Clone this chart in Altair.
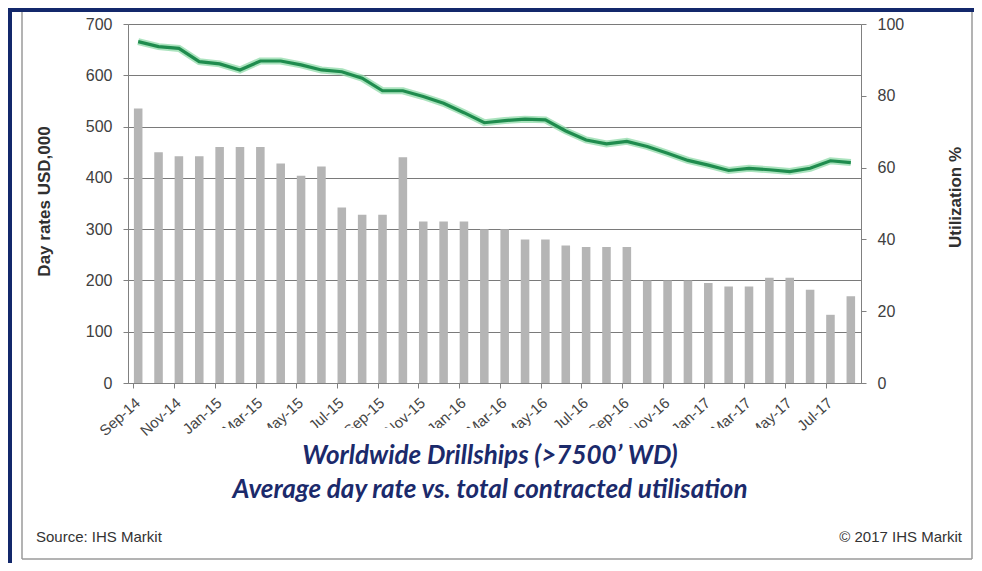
import altair as alt
import pandas as pd

months = ["Sep-14", "Oct-14", "Nov-14", "Dec-14", "Jan-15", "Feb-15", "Mar-15", "Apr-15",
          "May-15", "Jun-15", "Jul-15", "Aug-15", "Sep-15", "Oct-15", "Nov-15", "Dec-15",
          "Jan-16", "Feb-16", "Mar-16", "Apr-16", "May-16", "Jun-16", "Jul-16", "Aug-16",
          "Sep-16", "Oct-16", "Nov-16", "Dec-16", "Jan-17", "Feb-17", "Mar-17", "Apr-17",
          "May-17", "Jun-17", "Jul-17", "Aug-17"]
day_rates = [535, 450, 442, 442, 460, 460, 460, 428, 404, 422, 342, 328, 328, 440, 315, 315,
             315, 300, 300, 280, 280, 268, 265, 265, 265, 200, 200, 200, 195, 188, 188, 205,
             205, 182, 133, 169]
utilization = [95.1, 93.7, 93.2, 89.5, 88.9, 87.2, 89.7, 89.7, 88.6, 87.2, 86.7, 84.9, 81.4,
               81.4, 79.8, 77.9, 75.3, 72.5, 73.1, 73.5, 73.3, 70.2, 67.7, 66.6, 67.3, 65.9,
               64.0, 62.0, 60.7, 59.2, 59.8, 59.4, 58.9, 59.8, 61.9, 61.4]
label_months = months[::2]

title_lines = ["Worldwide Drillships (>7500\u2019 WD)",
               "Average day rate vs. total contracted utilisation"]
source_text = "Source: IHS Markit"
copyright_text = "\u00a9 2017 IHS Markit"

df = pd.DataFrame({"month": months, "rate": day_rates, "util": utilization})

W, H = 733, 359
FONT = "Liberation Sans"

x_enc = alt.X("month:N", sort=months,
              scale=alt.Scale(paddingInner=0.58, paddingOuter=0.29),
              axis=alt.Axis(title=None, values=label_months, bandPosition=0,
                            labelOffset=-5, labelAngle=318, labelAlign="right",
                            labelBaseline="top", labelPadding=7, labelFont=FONT,
                            labelFontSize=15, labelColor="#454545", tickSize=5,
                            tickColor="#808080", domainColor="#808080",
                            labelOverlap=False, zindex=0))

bars = alt.Chart(df).mark_bar(color="#b5b5b5").encode(
    x=x_enc,
    y=alt.Y("rate:Q", scale=alt.Scale(domain=[0, 700]),
            axis=alt.Axis(title="Day rates USD,000", values=list(range(0, 701, 100)),
                          grid=True, gridColor="#7a7a7a", domainColor="#808080",
                          tickColor="#808080", tickSize=5, labelPadding=11,
                          labelFont=FONT, labelFontSize=16, labelColor="#404040",
                          titleFont=FONT, titleFontSize=17, titleFontWeight="bold",
                          titleColor="#303030", titleAngle=270, titleX=-84, titleY=177,
                          titleAlign="center", titleBaseline="middle", zindex=0)),
)

y_line = alt.Y("util:Q", scale=alt.Scale(domain=[0, 100]),
               axis=alt.Axis(title="Utilization %", orient="right",
                             values=list(range(0, 101, 20)), grid=False,
                             domainColor="#808080", tickColor="#808080", tickSize=5,
                             labelPadding=11, labelFont=FONT, labelFontSize=16,
                             labelColor="#404040", titleFont=FONT, titleFontSize=17,
                             titleFontWeight="bold", titleColor="#303030",
                             titleAngle=270, titleX=94, titleY=173, titleAlign="center",
                             titleBaseline="middle", zindex=0))

halo = alt.Chart(df).mark_line(color="#8fd9a8", strokeWidth=7, opacity=0.75).encode(
    x=alt.X("month:N", sort=months), y=y_line)
core = alt.Chart(df).mark_line(color="#1f8c4e", strokeWidth=3.2).encode(
    x=alt.X("month:N", sort=months), y=alt.Y("util:Q", scale=alt.Scale(domain=[0, 100]), axis=None))

one = alt.Data(values=[{}])

white_box = alt.Chart(one).mark_rect(color="white").encode(
    x=alt.value(72), x2=alt.value(662), y=alt.value(404), y2=alt.value(500))

title1 = alt.Chart(one).mark_text(text=title_lines[0], font="Lato", fontSize=26,
                                  fontWeight="bold", fontStyle="italic", color="#1b2a6b",
                                  align="center", baseline="middle").encode(
    x=alt.value(362), y=alt.value(432))
title2 = alt.Chart(one).mark_text(text=title_lines[1], font="Lato", fontSize=26,
                                  fontWeight="bold", fontStyle="italic", color="#1b2a6b",
                                  align="center", baseline="middle").encode(
    x=alt.value(362), y=alt.value(466))
src = alt.Chart(one).mark_text(text=source_text, font=FONT, fontSize=15, color="#333333",
                               align="left", baseline="middle").encode(
    x=alt.value(-92), y=alt.value(513))
cpy = alt.Chart(one).mark_text(text=copyright_text, font=FONT, fontSize=15, color="#333333",
                               align="right", baseline="middle").encode(
    x=alt.value(834), y=alt.value(513))

# frames
gray_frame = [
    alt.Chart(one).mark_rule(color="#9a9a9a", strokeWidth=1.5).encode(
        x=alt.value(-106), x2=alt.value(-106), y=alt.value(-16), y2=alt.value(535)),
    alt.Chart(one).mark_rule(color="#9a9a9a", strokeWidth=1.5).encode(
        x=alt.value(-106), x2=alt.value(844), y=alt.value(535), y2=alt.value(535)),
    alt.Chart(one).mark_rule(color="#9a9a9a", strokeWidth=1.5).encode(
        x=alt.value(844), x2=alt.value(844), y=alt.value(-16), y2=alt.value(535)),
]
navy_frame = [
    alt.Chart(one).mark_rule(color="#13286b", strokeWidth=4).encode(
        x=alt.value(-118), x2=alt.value(-118), y=alt.value(-16), y2=alt.value(540)),
    alt.Chart(one).mark_rule(color="#13286b", strokeWidth=4).encode(
        x=alt.value(-120), x2=alt.value(846), y=alt.value(-14), y2=alt.value(-14)),
]

chart = alt.layer(
    bars, halo, core, white_box, title1, title2, src, cpy, *gray_frame, *navy_frame
).resolve_scale(y="independent").properties(
    width=W, height=H,
    autosize=alt.AutoSizeParams(type="none"),
    padding={"left": 120, "top": 16, "right": 113, "bottom": 180},
).configure_view(strokeWidth=0).configure(background="white")

chart.save("out.html", embed_options={"renderer": "svg", "actions": False})
